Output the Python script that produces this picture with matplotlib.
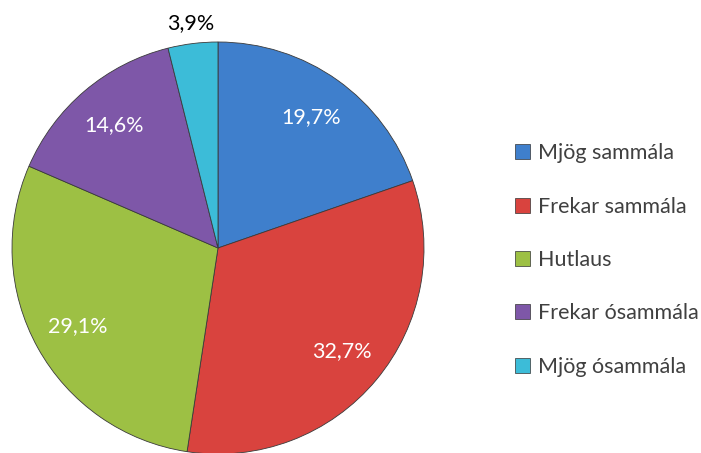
import matplotlib.pyplot as plt
from matplotlib.patches import Patch

labels = ['Mjög sammála', 'Frekar sammála', 'Hutlaus', 'Frekar ósammála', 'Mjög ósammála']
values = [19.7, 32.7, 29.1, 14.6, 3.9]
colors = ['#3F7FCC', '#D9433E', '#9DC044', '#7E57A8', '#3CBCD8']

plt.rcParams['font.family'] = ['Lato', 'DejaVu Sans']

fig = plt.figure(figsize=(7.01, 4.53), dpi=100)
W, H = 701, 453
cx, cy, r = 218, 248, 206
ax = fig.add_axes([(cx - r) / W, (H - cy - r) / H, 2 * r / W, 2 * r / H])

wedges, texts, autotexts = ax.pie(
    values, colors=colors, startangle=90, counterclock=False, radius=1,
    autopct=lambda p: f'{p:.1f}%'.replace('.', ','), pctdistance=0.78,
    wedgeprops=dict(edgecolor='#3a3a3a', linewidth=0.6),
    textprops=dict(color='white', fontsize=15.5))

# smallest slice label sits outside the pie
last = autotexts[-1]
x, y = last.get_position()
last.set_position((x * 1.1 / 0.78, y * 1.1 / 0.78))
last.set_color('black')

ax.set_xlim(-1, 1)
ax.set_ylim(-1, 1)
ax.set_aspect('equal')

handles = [Patch(facecolor=c, edgecolor='#333333', linewidth=0.5) for c in colors]
fig.legend(handles, labels, loc='center left', bbox_to_anchor=(496 / W, 1 - 260 / H),
           frameon=False, fontsize=15.5, labelcolor='#404040',
           handlelength=0.7, handleheight=0.7, handletextpad=0.35, labelspacing=1.55)

fig.savefig('out.png', dpi=100)
